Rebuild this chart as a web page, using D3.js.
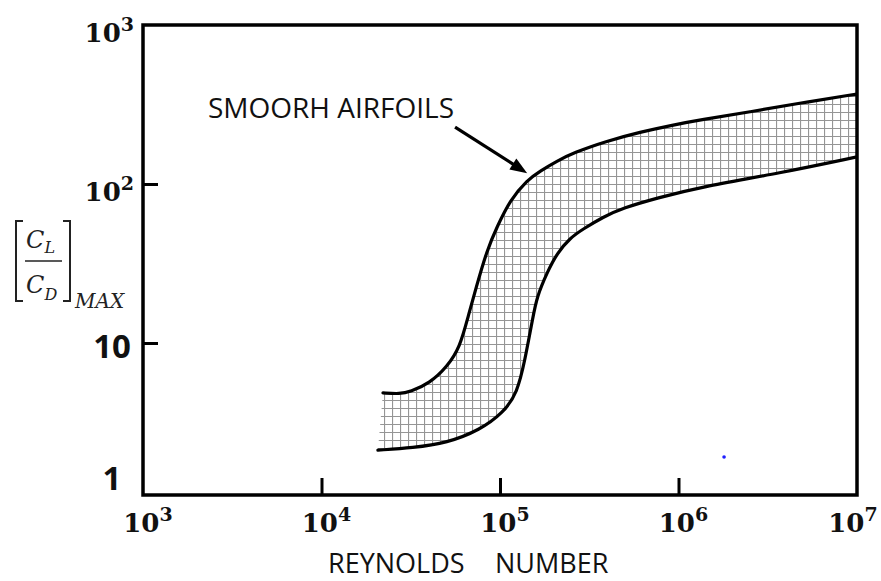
<!DOCTYPE html>
<html>
<head>
<meta charset="utf-8">
<script src="https://cdn.jsdelivr.net/npm/d3@7"></script>
<style>
  html, body { margin: 0; padding: 0; background: #fff; }
  svg { display: block; }
</style>
</head>
<body>
<svg id="chart" width="881" height="581"></svg>
<script>
// Upper boundary of the smooth-airfoil band: Reynolds number vs (CL/CD)max
const reynoldsUpper = [2.21e4, 2.75e4, 3.13e4, 4.05e4, 5.05e4, 5.97e4, 6.62e4, 7.34e4, 8.46e4, 9.62e4, 1.14e5, 1.42e5, 1.68e5, 2.09e5, 2.56e5, 3.98e5, 6.09e5, 9.32e5, 1.32e6, 2.52e6, 4.8e6, 1e7];
const ldUpper       = [4.85, 4.78, 4.92, 5.6, 7.07, 9.44, 14.6, 22.2, 38.5, 53.7, 79.3, 106, 120.7, 139.5, 156.7, 186.4, 212, 235, 253, 284, 323, 368];

// Lower boundary of the band
const reynoldsLower = [2.07e4, 3.25e4, 5.05e4, 7.73e4, 1.04e5, 1.25e5, 1.38e5, 1.53e5, 1.61e5, 1.83e5, 2.09e5, 2.47e5, 2.92e5, 3.78e5, 4.89e5, 7.58e5, 1.32e6, 3.7e6, 1e7];
const ldLower       = [2.12, 2.19, 2.35, 2.84, 3.63, 4.85, 7.82, 14.6, 19.5, 27.6, 36.8, 45.8, 52.1, 62.0, 70.7, 81.6, 95.7, 117, 148];

// Axis ticks
const xTickValues = [1e3, 1e4, 1e5, 1e6, 1e7];
const xTickExponents = ["3", "4", "5", "6", "7"];
const yPowerTicks = [1000, 100];
const yPowerExponents = ["3", "2"];
const yPlainTicks = [10, 1];
const yPlainLabels = ["10", "1"];

// Annotation: text anchor, arrow tail and arrow tip (Re, L/D)
const noteText = "SMOORH AIRFOILS";
const notePoint = [2.31e3, 260];
const arrowTail = [5.6e4, 228];
const arrowTip = [1.42e5, 117];

// Stray marker
const strayPoint = [1.8e6, 1.92];

const svg = d3.select("#chart");
const plot = { left: 143, right: 857, top: 25, bottom: 495 };

const x = d3.scaleLog().domain([1e3, 1e7]).range([plot.left, plot.right]);
const y = d3.scaleLog().domain([1, 1000]).range([502, 25]);

const defs = svg.append("defs");
defs.append("clipPath").attr("id", "plotClip")
  .append("rect")
  .attr("x", plot.left).attr("y", plot.top)
  .attr("width", plot.right - plot.left).attr("height", plot.bottom - plot.top);

const pat = defs.append("pattern")
  .attr("id", "grid")
  .attr("patternUnits", "userSpaceOnUse")
  .attr("width", 8).attr("height", 8);
pat.append("rect").attr("width", 8).attr("height", 8).attr("fill", "#fff");
pat.append("path")
  .attr("d", "M0 0.5H8M0.5 0V8")
  .attr("stroke", "#959595")
  .attr("stroke-width", 1.2)
  .attr("fill", "none");

const upper = reynoldsUpper.map((r, i) => [r, ldUpper[i]]);
const lower = reynoldsLower.map((r, i) => [r, ldLower[i]]);

const line = d3.line()
  .x(d => x(d[0]))
  .y(d => y(d[1]))
  .curve(d3.curveBasis);

const g = svg.append("g").attr("clip-path", "url(#plotClip)");

// Hatched band between the two boundaries
const bandPath = line(upper) + line(lower.slice().reverse()).replace(/^M/, "L") + "Z";
g.append("path")
  .attr("d", bandPath)
  .attr("fill", "url(#grid)")
  .attr("stroke", "none");

// Boundary curves
[upper, lower].forEach(series => {
  g.append("path")
    .attr("d", line(series))
    .attr("fill", "none")
    .attr("stroke", "#000")
    .attr("stroke-width", 3.2)
    .attr("stroke-linecap", "round");
});

// Inner tick marks
const xAxis = d3.axisBottom(x)
  .tickValues([1e4, 1e5, 1e6])
  .tickSizeInner(-17).tickSizeOuter(0)
  .tickFormat("");
const gx = svg.append("g").attr("transform", `translate(0,${plot.bottom})`).call(xAxis);
gx.select(".domain").remove();
gx.selectAll(".tick line").attr("stroke", "#000").attr("stroke-width", 3);

const yAxis = d3.axisLeft(y)
  .tickValues([10, 100])
  .tickSizeInner(-15).tickSizeOuter(0)
  .tickFormat("");
const gy = svg.append("g").attr("transform", `translate(${plot.left},0)`).call(yAxis);
gy.select(".domain").remove();
gy.selectAll(".tick line").attr("stroke", "#000").attr("stroke-width", 3);

// Frame
svg.append("rect")
  .attr("x", plot.left).attr("y", plot.top)
  .attr("width", plot.right - plot.left).attr("height", plot.bottom - plot.top)
  .attr("fill", "none")
  .attr("stroke", "#000")
  .attr("stroke-width", 3.5);

// X tick labels (powers of ten)
xTickValues.forEach((v, i) => {
  const t = svg.append("text")
    .attr("x", Math.min(x(v) + 5, 853))
    .attr("y", 532)
    .attr("text-anchor", "middle")
    .attr("font-family", "'DejaVu Serif', serif")
    .attr("font-weight", "bold")
    .attr("font-size", 26)
    .attr("fill", "#111");
  t.append("tspan").text("10");
  t.append("tspan").attr("font-size", 19).attr("dy", -11).text(xTickExponents[i]);
});

// Y tick labels
yPowerTicks.forEach((v, i) => {
  const t = svg.append("text")
    .attr("x", 134)
    .attr("y", y(v) + 17)
    .attr("text-anchor", "end")
    .attr("font-family", "'DejaVu Serif', serif")
    .attr("font-weight", "bold")
    .attr("font-size", 26)
    .attr("fill", "#111");
  t.append("tspan").text("10");
  t.append("tspan").attr("font-size", 19).attr("dy", -11).text(yPowerExponents[i]);
});
yPlainTicks.forEach((v, i) => {
  svg.append("text")
    .attr("x", 112)
    .attr("y", Math.min(y(v) + 15, 490))
    .attr("text-anchor", "middle")
    .attr("font-family", "'Open Sans', sans-serif")
    .attr("font-weight", "bold")
    .attr("font-size", 33)
    .attr("fill", "#111")
    .text(yPlainLabels[i]);
});

// X axis title
const xt = svg.append("text")
  .attr("y", 573)
  .attr("font-family", "'Open Sans', sans-serif")
  .attr("font-size", 27)
  .attr("fill", "#111");
xt.append("tspan").attr("x", 328).text("REYNOLDS");
xt.append("tspan").attr("x", 495).text("NUMBER");

// Y axis title: [CL / CD] subscript MAX
const yl = svg.append("g")
  .attr("font-family", "'DejaVu Serif', serif")
  .attr("font-style", "italic")
  .attr("fill", "#222");
const bracket = (xv, dir) =>
  `M${xv + 7 * dir},221 H${xv} V301 H${xv + 7 * dir}`;
yl.append("path").attr("d", bracket(16, 1))
  .attr("fill", "none").attr("stroke", "#222").attr("stroke-width", 2);
yl.append("path").attr("d", bracket(70, -1))
  .attr("fill", "none").attr("stroke", "#222").attr("stroke-width", 2);
yl.append("line")
  .attr("x1", 25).attr("x2", 62).attr("y1", 261).attr("y2", 261)
  .attr("stroke", "#222").attr("stroke-width", 1.6);
const num = yl.append("text").attr("x", 26).attr("y", 248).attr("font-size", 24);
num.append("tspan").text("C");
num.append("tspan").attr("font-size", 16).attr("dy", 5).text("L");
const den = yl.append("text").attr("x", 26).attr("y", 293).attr("font-size", 24);
den.append("tspan").text("C");
den.append("tspan").attr("font-size", 16).attr("dy", 7).text("D");
yl.append("text").attr("x", 75).attr("y", 308).attr("font-size", 20).text("MAX");

// Annotation with arrow
svg.append("text")
  .attr("x", x(notePoint[0]))
  .attr("y", y(notePoint[1]))
  .attr("font-family", "'Open Sans', sans-serif")
  .attr("font-size", 28)
  .attr("fill", "#111")
  .text(noteText);

const p0 = [x(arrowTail[0]), y(arrowTail[1])];
const p1 = [x(arrowTip[0]), y(arrowTip[1])];
const ang = Math.atan2(p1[1] - p0[1], p1[0] - p0[0]);
const headLen = 17, headHalf = 6.5;
const base = [p1[0] - headLen * Math.cos(ang), p1[1] - headLen * Math.sin(ang)];
svg.append("line")
  .attr("x1", p0[0]).attr("y1", p0[1])
  .attr("x2", base[0] + 2 * Math.cos(ang)).attr("y2", base[1] + 2 * Math.sin(ang))
  .attr("stroke", "#000").attr("stroke-width", 3.2);
svg.append("path")
  .attr("d", `M${p1[0]},${p1[1]}` +
    `L${base[0] - headHalf * Math.sin(ang)},${base[1] + headHalf * Math.cos(ang)}` +
    `L${base[0] + headHalf * Math.sin(ang)},${base[1] - headHalf * Math.cos(ang)}Z`)
  .attr("fill", "#000");

svg.append("circle")
  .attr("cx", x(strayPoint[0]))
  .attr("cy", y(strayPoint[1]))
  .attr("r", 1.8)
  .attr("fill", "#1f1fff");
</script>
</body>
</html>
